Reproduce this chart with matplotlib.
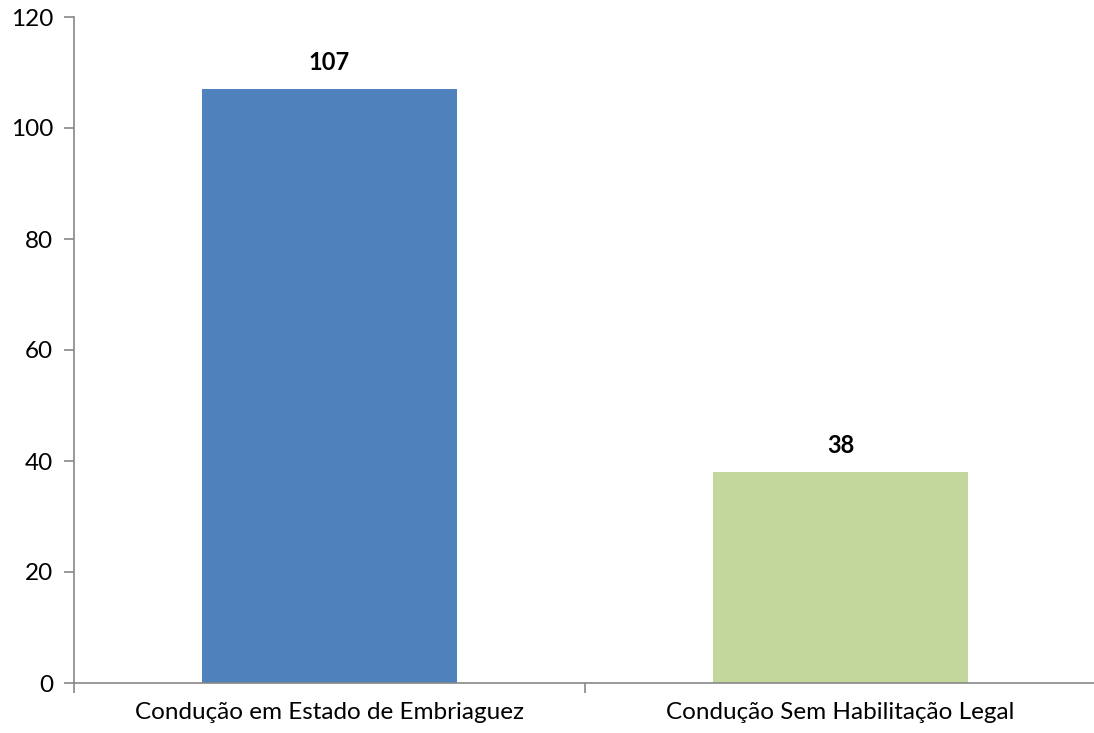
import matplotlib
matplotlib.use("Agg")
import matplotlib.pyplot as plt
from matplotlib.ticker import FixedLocator

categories = ["Condução em Estado de Embriaguez", "Condução Sem Habilitação Legal"]
values = [107, 38]
colors = ["#4F81BD", "#C3D69B"]

plt.rcParams["font.family"] = ["Lato", "DejaVu Sans"]

W, H = 1094, 733
fig = plt.figure(figsize=(W / 100, H / 100), dpi=100)
ax = fig.add_axes([74 / W, (H - 683) / H, (1096 - 74) / W, (683 - 17) / H])

x = list(range(len(categories)))
ax.bar(x, values, width=0.5, color=colors)
for xi, v in zip(x, values):
    ax.annotate(str(v), (xi, v), xytext=(0, 11), textcoords="offset points",
                ha="center", va="bottom", fontsize=17, fontweight="bold")

ax.set_xlim(-0.5, len(categories) - 0.5)
ax.set_ylim(0, 120)
ax.set_yticks(range(0, 121, 20))
ax.set_xticks(x)
ax.set_xticklabels(categories)
ax.xaxis.set_minor_locator(FixedLocator([-0.5, 0.5, 1.5]))

spine_col = "#888888"
for side in ["top", "right"]:
    ax.spines[side].set_visible(False)
for side in ["left", "bottom"]:
    ax.spines[side].set_color(spine_col)
    ax.spines[side].set_linewidth(1.2)

ax.tick_params(axis="x", which="major", length=0, pad=14, labelsize=17.5)
ax.tick_params(axis="x", which="minor", length=7, width=1.2, color=spine_col)
ax.tick_params(axis="y", length=7, width=1.2, color=spine_col, labelsize=17.5, pad=8)

fig.savefig("out.png", dpi=100)
